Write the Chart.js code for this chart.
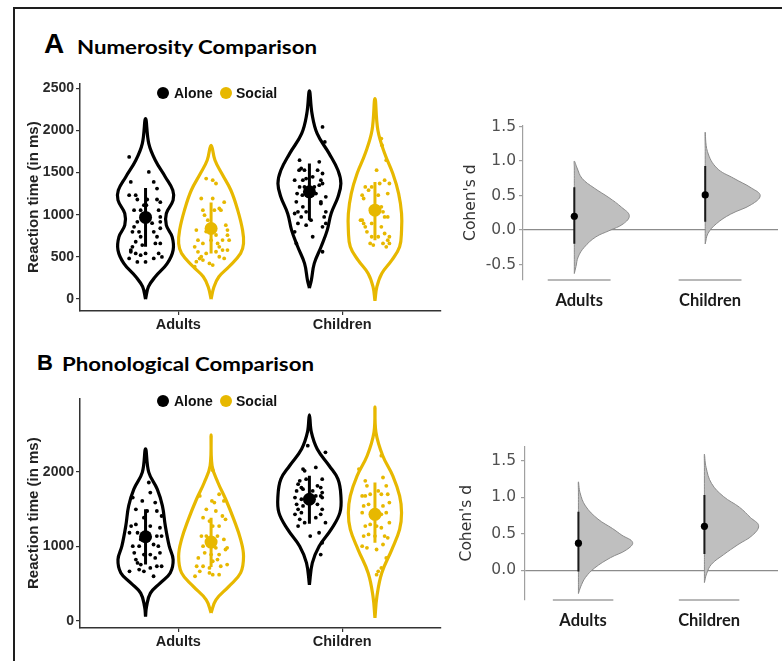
<!DOCTYPE html>
<html><head><meta charset="utf-8">
<script src="https://cdn.jsdelivr.net/npm/chart.js@4.4.1/dist/chart.umd.min.js"></script>
<style>
html,body{margin:0;padding:0;background:#fff;}
body{width:782px;height:661px;position:relative;overflow:hidden;}
.frame{position:absolute;left:13px;top:7px;width:820px;height:720px;border-left:2px solid #1e1e1e;border-top:2px solid #1e1e1e;}
canvas{position:absolute;}
.t{position:absolute;white-space:nowrap;color:#000;line-height:1;}
.big{font-family:"Liberation Sans",Arial,sans-serif;font-weight:700;}
.sub{font-family:Lato,"Open Sans",sans-serif;font-weight:700;transform-origin:0 0;display:inline-block;}
.leg{position:absolute;font:700 14px "Liberation Sans",Arial,sans-serif;color:#111;white-space:nowrap;line-height:14px;}
.dot{position:absolute;width:12px;height:12px;border-radius:50%;}
</style></head>
<body>
<div class="frame"></div>
<canvas id="rtA" width="431" height="263" style="left:16px;top:73px"></canvas>
<canvas id="dA" width="337" height="197" style="left:445px;top:113px"></canvas>
<canvas id="rtB" width="431" height="265" style="left:16px;top:388px"></canvas>
<canvas id="dB" width="335" height="198" style="left:447px;top:432px"></canvas>
<script>
// ---------------- DATA ----------------
const categories = ['Adults', 'Children'];
const conditions = ['Alone', 'Social'];
const panelLetters = ['A', 'B'];
const panelTitles = ['Numerosity Comparison', 'Phonological Comparison'];
const rtAxisTitle = 'Reaction time (in ms)';
const dAxisTitle = "Cohen's d";
const rtTicksA = [0, 500, 1000, 1500, 2000, 2500];
const rtTicksB = [0, 1000, 2000];
const dTicksA = [-0.5, 0, 0.5, 1, 1.5];
const dTicksB = [0, 0.5, 1, 1.5];

// Panel A (numerosity) - individual reaction times and jitter
const numAdultsAloneRT = [1686,1509,1390,1390,1311,1232,1232,1181,1181,1181,1114,1114,1150,1054,1054,1054,975,916,916,900,857,798,798,840,798,739,739,680,620,640,660,660,581,541,520,541,541,482,482,500,560,440,440];
const numAdultsAloneJit = [-1.0,0.2,-0.9,0.5,0.7,-1.0,-0.6,-0.5,0.1,0.7,-0.1,0.05,0.9,-0.7,-0.3,0.8,0.9,-0.5,0.9,0.4,-0.7,-0.8,-0.4,0.9,0.5,0.7,-0.3,-0.6,-0.8,-0.2,0.6,0.9,-0.9,-0.6,-0.3,0.0,0.8,-1.0,0.5,1.0,-0.9,0.0,-0.5];
const numAdultsSocialRT = [1430,1410,1371,1193,1193,1075,1054,995,1054,1054,936,877,818,758,699,818,699,660,620,699,660,620,581,561,541,502,443,462,423,403,383,502,482,581,560,700,760,800,1150,480];
const numAdultsSocialJit = [-0.3,0.1,0.3,-0.6,0.1,0.5,-0.5,-0.4,0.2,0.6,-0.2,0.9,1.0,1.0,1.1,-0.9,-0.8,-0.5,-1.0,0.0,0.4,0.5,0.7,0.3,-0.3,-0.6,-0.9,-0.5,-0.1,0.1,-1.0,0.5,0.8,1.0,-0.8,0.7,0.3,-0.3,0.8,-0.7];
const numChildrenAloneRT = [2042,1865,1648,1628,1549,1529,1529,1529,1490,1410,1410,1430,1450,1410,1331,1331,1311,1331,1351,1371,1252,1232,1252,1252,1154,1154,1213,1094,1035,1015,1035,975,936,897,877,857,897,798,739,660,561,1134,975,1035];
const numChildrenAloneJit = [0.8,0.94,-0.6,0.6,-0.5,-0.63,-0.3,0.5,0.8,-0.9,-0.4,-0.2,0.2,0.7,-0.6,-0.3,0.0,0.3,0.6,0.8,-0.75,-0.43,-0.1,0.4,-0.8,0.7,1.0,-0.4,-0.7,-0.9,1.0,0.9,0.1,-0.7,-0.2,0.8,1.0,-0.9,0.2,-0.8,0.8,0.7,-0.5,-0.2];
const numChildrenSocialRT = [1904,1825,1648,1529,1331,1292,1331,1232,1193,1232,1371,1410,1252,1094,975,975,1035,936,897,857,897,857,778,739,699,739,739,660,640,660,620,660,936,798,1371];
const numChildrenSocialJit = [0.39,0.43,0.69,0.1,-0.59,-0.39,-0.2,-0.78,-0.69,0.2,0.88,0.59,0.78,0.39,0.59,0.78,0.49,-0.78,-0.69,-0.59,-0.2,0.39,0.59,0.88,0.78,0.2,-0.2,-0.29,-0.1,0.49,0.69,0.88,-0.88,-0.49,0.29];
// mean, lower, upper
const numAdultsAloneStats = [968, 620, 1319];
const numAdultsSocialStats = [837, 541, 1146];
const numChildrenAloneStats = [1272, 936, 1607];
const numChildrenSocialStats = [1055, 699, 1390];
// violin density profiles (value levels, relative half-width)
const numAdultsAloneVY = [0,146,264,423,580,738,877,1015,1173,1291,1449,1647,1844,2140];
const numAdultsAloneVW = [0,.09,.30,.67,.85,.82,.64,.64,.85,.84,.61,.30,.10,0];
const numAdultsSocialVY = [0,146,264,383,541,660,818,1055,1291,1489,1647,1825];
const numAdultsSocialVW = [0,.09,.24,.55,.91,1.0,.97,.82,.61,.33,.12,0];
const numChildrenAloneVY = [130,225,423,620,818,1015,1212,1371,1528,1726,1963,2200,2470];
const numChildrenAloneVW = [0,.06,.15,.36,.55,.67,.88,.97,.88,.61,.24,.08,0];
const numChildrenSocialVY = [-20,146,304,462,620,818,1015,1252,1489,1726,2002,2380];
const numChildrenSocialVW = [0,.06,.21,.52,.76,.82,.82,.73,.55,.30,.09,0];

// Panel B (phonological)
const phoAdultsAloneRT = [1860,1725,1657,1612,1590,1500,1477,1477,1410,1387,1275,1297,1275,1252,1185,1185,1140,1140,1140,1095,1005,1005,1027,1005,915,892,892,915,825,780,757,847,735,667,690,667,712,600,735];
const phoAdultsAloneJit = [0.2,0.29,-0.78,-0.2,0.59,-0.59,0.1,0.69,0.98,-0.1,-0.88,-0.59,0.29,0.88,-0.98,-0.49,-0.2,0.69,0.98,-0.29,-0.78,-0.39,0.49,0.78,-0.69,-0.1,0.29,0.88,-0.59,-0.49,-0.29,0.59,0.98,-0.98,-0.39,-0.1,0.29,0.49,0.69];
const phoAdultsSocialRT = [2026,1680,1612,1590,1702,1612,1500,1477,1410,1387,1342,1275,1275,1365,1140,1140,1095,1140,1095,1005,1005,982,982,915,892,892,960,847,802,825,735,735,712,735,757,600,667,622,622,645];
const phoAdultsSocialJit = [0.1,-0.69,0.05,0.2,0.49,0.78,-0.29,0.29,0.69,-0.49,-0.1,0.1,0.49,0.88,-0.59,-0.29,0.1,0.39,0.78,-0.49,-0.1,0.29,0.98,-0.39,0,0.49,0.88,-0.78,0.1,0.39,-0.88,-0.49,-0.1,0.59,0.98,-0.98,-0.69,0.1,0.49,-0.1];
const phoChildrenAloneRT = [2355,2265,2040,2062,2017,1882,1905,1905,1837,1792,1815,1792,1747,1770,1725,1680,1657,1635,1680,1657,1567,1545,1567,1500,1455,1500,1432,1365,1320,1387,1320,1275,1140,1185,1050,892,1432,1747];
const phoChildrenAloneJit = [-0.1,0.98,-0.39,0.39,-0.29,-0.59,-0.2,0.78,-0.69,-0.49,0.49,0.69,-0.78,-0.39,0.78,0.39,-0.88,-0.49,0.69,0.78,-0.78,-0.39,0.49,-0.69,-0.49,0.78,0.69,-0.59,-0.29,0.39,0.98,-0.69,0.05,0.59,0.78,0.69,-0.88,0.2];
const phoChildrenSocialRT = [2040,2220,1927,1882,1815,1747,1815,1680,1680,1702,1702,1702,1545,1567,1545,1590,1455,1410,1432,1455,1275,1297,1275,1252,1320,1140,1162,1140,1140,1005,982,1027,960,847,712,622,667,1117];
const phoChildrenSocialJit = [-0.98,0.39,0.49,-0.59,-0.49,0.2,0.69,-0.78,-0.59,-0.29,0.39,0.78,-0.69,-0.39,0.49,0.88,-0.78,-0.2,0.39,0.69,-0.59,-0.29,0.1,0.39,0.88,-0.69,-0.39,0.0,0.59,-0.78,-0.49,0.49,0.1,0.69,0.39,0.1,0.2,0.78];
const phoAdultsAloneStats = [1131, 757, 1500];
const phoAdultsSocialStats = [1059, 725, 1387];
const phoChildrenAloneStats = [1635, 1306, 1950];
const phoChildrenSocialStats = [1432, 1050, 1860];
const phoAdultsAloneVY = [58,193,374,509,645,824,1004,1274,1545,1770,1996,2311];
const phoAdultsAloneVW = [0,.03,.15,.45,.76,.85,.73,.61,.52,.36,.10,0];
const phoAdultsSocialVY = [108,284,464,645,869,1095,1365,1635,1860,2085,2500];
const phoAdultsSocialVW = [0,.15,.55,.91,1.0,.91,.70,.45,.21,.03,0];
const phoChildrenAloneVY = [486,780,1004,1230,1455,1680,1905,2085,2311,2536,2770];
const phoChildrenAloneVW = [0,.09,.30,.67,.94,.97,.88,.61,.24,.06,0];
const phoChildrenSocialVY = [40,328,645,959,1230,1455,1680,1950,2220,2536,2876];
const phoChildrenSocialVW = [0,.06,.21,.52,.76,.82,.76,.55,.24,.03,0];

// Cohen's d: distribution profiles and [estimate, CI low, CI high]
const numDAdultsY = [-0.63,-0.53,-0.39,-0.25,-0.10,-0.01,0.09,0.21,0.33,0.47,0.61,0.75,0.90,1.0];
const numDAdultsW = [0,.03,.07,.18,.39,.63,.89,1.0,.86,.63,.36,.14,.05,0];
const numDChildrenY = [-0.2,-0.05,0.09,0.23,0.37,0.5,0.61,0.75,0.9,1.14,1.42];
const numDChildrenW = [0,.05,.2,.46,.84,1.0,.84,.52,.21,.04,0];
const numDAdultsStats = [0.2, -0.2, 0.62];
const numDChildrenStats = [0.51, 0.12, 0.93];
const phoDAdultsY = [-0.32,-0.23,-0.10,0.03,0.17,0.28,0.38,0.48,0.57,0.70,0.88,1.06,1.21];
const phoDAdultsW = [0,.04,.13,.30,.59,.89,1.0,.80,.63,.36,.13,.03,0];
const phoDChildrenY = [-0.17,-0.05,0.08,0.21,0.35,0.48,0.61,0.72,0.86,1.01,1.19,1.41,1.59];
const phoDChildrenW = [0,.04,.13,.35,.62,.89,1.0,.85,.65,.35,.13,.03,0];
const phoDAdultsStats = [0.37, -0.02, 0.8];
const phoDChildrenStats = [0.6, 0.22, 1.03];

// ---------------- STYLE / LAYOUT ----------------
const COLORS = ['#000000', '#E7B800'];
const DODGE = 0.2, JIT = 0.1, VHALF = 0.198, HOFF = -0.037;
const ARIAL = '"Liberation Sans", Arial, sans-serif';
const DEJA = '"DejaVu Sans", sans-serif';
const CAL = 'Lato, "Open Sans", sans-serif';

function violinOutline(c, ys, ws, half) {
  const left = ys.map((v, i) => ({x: c - ws[i] * half, y: v}));
  const right = ys.map((v, i) => ({x: c + ws[i] * half, y: v})).reverse();
  return left.concat(right.slice(1));
}
function halfViolin(c, ys, ws, half) {
  const base = ys.map(v => ({x: c, y: v}));
  const curve = ys.map((v, i) => ({x: c + ws[i] * half, y: v})).reverse();
  return base.concat(curve.slice(1));
}

const common = {
  responsive: false, animation: false, events: [],
  plugins: {legend: {display: false}, tooltip: {enabled: false}}
};

function rtChart(id, groups, ticks, yMin, yMax) {
  const ds = [];
  groups.forEach(g => {
    const c = (g.cat + 1) + (g.cond === 0 ? -DODGE : DODGE);
    const col = COLORS[g.cond];
    ds.push({data: violinOutline(c, g.vy, g.vw, VHALF), showLine: true, borderColor: col, borderWidth: 3.2,
             pointRadius: 0, tension: 0.4, fill: false, order: 4});
    ds.push({data: g.rt.map((v, i) => ({x: c + g.jit[i] * JIT, y: v})), pointRadius: 1.9,
             backgroundColor: col, borderWidth: 0, order: 3});
    ds.push({data: [{x: c, y: g.st[1]}, {x: c, y: g.st[2]}], showLine: true, borderColor: col,
             borderWidth: 3, pointRadius: 0, order: 2});
    ds.push({data: [{x: c, y: g.st[0]}], pointRadius: 6.5, backgroundColor: col, borderWidth: 0, order: 1});
  });
  new Chart(document.getElementById(id), {
    type: 'scatter',
    data: {datasets: ds},
    options: Object.assign({}, common, {
      layout: {padding: {top: 10, left: 0, right: 0, bottom: 0}},
      scales: {
        x: {type: 'linear', min: 0.4, max: 2.6,
            afterBuildTicks: s => { s.ticks = categories.map((_, i) => ({value: i + 1})); },
            afterFit: s => { s.height = 25; },
            ticks: {callback: v => categories[Math.round(v) - 1], font: {family: ARIAL, size: 14.5, weight: 'bold'},
                    color: '#1e1e1e', padding: 1, maxRotation: 0, autoSkip: false},
            grid: {display: true, drawOnChartArea: false, drawTicks: true, tickLength: 4, color: '#333', lineWidth: 1.2},
            border: {display: true, color: '#333', width: 1.5}},
        y: {type: 'linear', min: yMin, max: yMax,
            afterBuildTicks: s => { s.ticks = ticks.map(v => ({value: v})); },
            afterFit: s => { s.width = 64; },
            ticks: {callback: v => String(v), font: {family: ARIAL, size: 14, weight: 'bold'}, color: '#2a2a2a', padding: 2},
            grid: {display: true, drawOnChartArea: false, drawTicks: true, tickLength: 4, color: '#333', lineWidth: 1.2},
            border: {display: true, color: '#333', width: 1.5},
            title: {display: true, text: rtAxisTitle, font: {family: ARIAL, size: 15, weight: 'bold'}, color: '#222',
                    padding: {top: 9, bottom: 0}}}
      }
    })
  });
}

function dChart(id, groups, ticks, yMin, yMax, xMin, xMax, vhalf, titlePad, tickPad) {
  const ds = [];
  groups.forEach((g, k) => {
    const c = k + 1 + HOFF;
    ds.push({data: halfViolin(c, g.vy, g.vw, vhalf), showLine: true, fill: 'shape', backgroundColor: '#bfbfbf',
             borderColor: '#8a8a8a', borderWidth: 1, tension: 0.4, pointRadius: 0, order: 3});
    ds.push({data: [{x: c, y: g.st[1]}, {x: c, y: g.st[2]}], showLine: true, borderColor: '#1a1a1a',
             borderWidth: 2, pointRadius: 0, order: 2});
    ds.push({data: [{x: c, y: g.st[0]}], pointRadius: 3.6, backgroundColor: '#000', borderWidth: 0, order: 1});
    ds.push({data: [{x: k + 1 - 0.24, y: yMin}, {x: k + 1 + 0.24, y: yMin}], showLine: true, borderColor: '#a0a0a0',
             borderWidth: 1.3, pointRadius: 0, clip: false, order: 5});
  });
  new Chart(document.getElementById(id), {
    type: 'scatter',
    data: {datasets: ds},
    options: Object.assign({}, common, {
      layout: {padding: {top: 10, left: 0, right: 0, bottom: 0}},
      scales: {
        x: {type: 'linear', min: xMin, max: xMax,
            afterBuildTicks: s => { s.ticks = categories.map((_, i) => ({value: i + 1})); },
            afterFit: s => { s.height = 30; },
            ticks: {callback: v => categories[Math.round(v) - 1], font: {family: CAL, size: 16.5, weight: 'bold'},
                    color: '#1a1a1a', padding: 11, maxRotation: 0, autoSkip: false},
            grid: {display: true, drawOnChartArea: false, drawTicks: false},
            border: {display: false}},
        y: {type: 'linear', min: yMin, max: yMax,
            afterBuildTicks: s => { s.ticks = ticks.map(v => ({value: v})); },
            afterFit: s => { s.width = 78; },
            ticks: {callback: v => v.toFixed(1), font: {family: DEJA, size: 15.5}, color: '#505050', padding: tickPad},
            grid: {display: true, drawOnChartArea: true, drawTicks: true, tickLength: 4, lineWidth: 1.2,
                   color: ctx => (ctx.tick && ctx.tick.value === 0) ? '#8c8c8c' : 'rgba(0,0,0,0)', tickColor: '#a0a0a0'},
            border: {display: true, color: '#a0a0a0', width: 1.2},
            title: {display: true, text: dAxisTitle, font: {family: DEJA, size: 15.5}, color: '#333',
                    padding: {top: titlePad, bottom: 0}}}
      }
    })
  });
}

rtChart('rtA', [
  {cat: 0, cond: 0, rt: numAdultsAloneRT, jit: numAdultsAloneJit, st: numAdultsAloneStats, vy: numAdultsAloneVY, vw: numAdultsAloneVW},
  {cat: 0, cond: 1, rt: numAdultsSocialRT, jit: numAdultsSocialJit, st: numAdultsSocialStats, vy: numAdultsSocialVY, vw: numAdultsSocialVW},
  {cat: 1, cond: 0, rt: numChildrenAloneRT, jit: numChildrenAloneJit, st: numChildrenAloneStats, vy: numChildrenAloneVY, vw: numChildrenAloneVW},
  {cat: 1, cond: 1, rt: numChildrenSocialRT, jit: numChildrenSocialJit, st: numChildrenSocialStats, vy: numChildrenSocialVY, vw: numChildrenSocialVW}
], rtTicksA, -142, 2559);

rtChart('rtB', [
  {cat: 0, cond: 0, rt: phoAdultsAloneRT, jit: phoAdultsAloneJit, st: phoAdultsAloneStats, vy: phoAdultsAloneVY, vw: phoAdultsAloneVW},
  {cat: 0, cond: 1, rt: phoAdultsSocialRT, jit: phoAdultsSocialJit, st: phoAdultsSocialStats, vy: phoAdultsSocialVY, vw: phoAdultsSocialVW},
  {cat: 1, cond: 0, rt: phoChildrenAloneRT, jit: phoChildrenAloneJit, st: phoChildrenAloneStats, vy: phoChildrenAloneVY, vw: phoChildrenAloneVW},
  {cat: 1, cond: 1, rt: phoChildrenSocialRT, jit: phoChildrenSocialJit, st: phoChildrenSocialStats, vy: phoChildrenSocialVY, vw: phoChildrenSocialVW}
], rtTicksB, -95, 2990);

dChart('dA', [
  {vy: numDAdultsY, vw: numDAdultsW, st: numDAdultsStats},
  {vy: numDChildrenY, vw: numDChildrenW, st: numDChildrenStats}
], dTicksA, -0.724, 1.519, 0.571, 2.519, 0.42, 17, 3);

dChart('dB', [
  {vy: phoDAdultsY, vw: phoDAdultsW, st: phoDAdultsStats},
  {vy: phoDChildrenY, vw: phoDChildrenW, st: phoDChildrenStats}
], dTicksB, -0.409, 1.697, 0.539, 2.547, 0.43, 11, 5);

// ---------------- TITLES & LEGENDS (HTML text) ----------------
const titleLayout = [
  {letter: {left: 44, top: 30, size: 28}, sub: {left: 77, top: 38, size: 18, width: 240}},
  {letter: {left: 37, top: 351.5, size: 22}, sub: {left: 62, top: 353.5, size: 19, width: 252}}
];
const legendY = [93, 400.7];
panelLetters.forEach((L, i) => {
  const lay = titleLayout[i];
  const a = document.createElement('div');
  a.className = 't big'; a.textContent = L;
  a.style.cssText = `left:${lay.letter.left}px;top:${lay.letter.top}px;font-size:${lay.letter.size}px;`;
  document.body.appendChild(a);
  const s = document.createElement('div');
  s.className = 't sub'; s.textContent = panelTitles[i];
  s.style.cssText = `left:${lay.sub.left}px;top:${lay.sub.top}px;font-size:${lay.sub.size}px;`;
  document.body.appendChild(s);
  const w = s.getBoundingClientRect().width;
  s.style.transform = `scaleX(${lay.sub.width / w})`;

  const cy = legendY[i];
  const dotX = [163, 226], txtX = [174, 236];
  conditions.forEach((c, k) => {
    const d = document.createElement('div');
    d.className = 'dot';
    d.style.cssText = `left:${dotX[k] - 6}px;top:${cy - 6}px;background:${COLORS[k]};`;
    document.body.appendChild(d);
    const t = document.createElement('div');
    t.className = 'leg'; t.textContent = c;
    t.style.cssText = `left:${txtX[k]}px;top:${cy - 6.8}px;`;
    document.body.appendChild(t);
  });
});
</script>
</body></html>
